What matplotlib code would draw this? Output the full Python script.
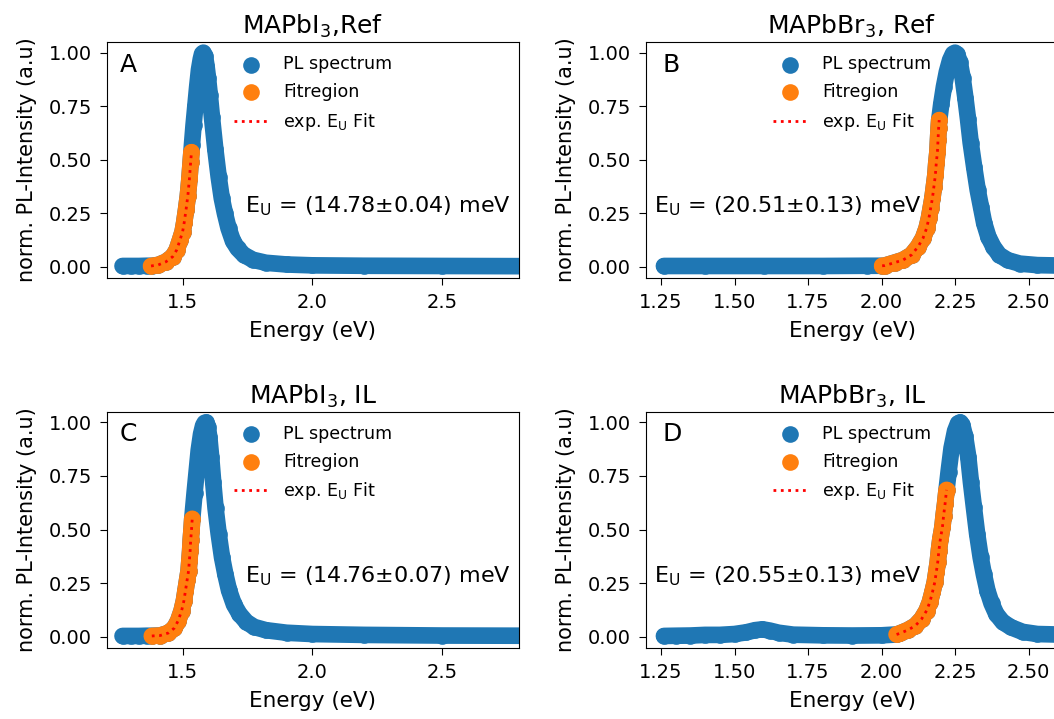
import matplotlib.pyplot as plt

BLUE   = '#1f77b4'
ORANGE = '#ff7f0e'

# MAPbI3, reference film
energy_a  = [1.267, 1.30, 1.33, 1.36, 1.38, 1.405, 1.435, 1.461, 1.476, 1.489, 1.499, 1.505, 1.512,
             1.519, 1.525, 1.530, 1.535, 1.541, 1.548, 1.555, 1.562, 1.569, 1.574, 1.579, 1.585,
             1.591, 1.597, 1.604, 1.612, 1.625, 1.638, 1.650, 1.662, 1.676, 1.693, 1.711, 1.735,
             1.770, 1.820, 1.900, 2.000, 2.200, 2.500, 2.850]
pl_a      = [0.003, 0.003, 0.003, 0.004, 0.004, 0.008, 0.023, 0.047, 0.078, 0.125, 0.164, 0.206, 0.265,
             0.330, 0.408, 0.490, 0.570, 0.660, 0.750, 0.840, 0.920, 0.970, 0.995, 1.000, 0.985,
             0.940, 0.880, 0.800, 0.700, 0.550, 0.420, 0.320, 0.250, 0.180, 0.120, 0.085, 0.055,
             0.032, 0.018, 0.010, 0.006, 0.004, 0.003, 0.002]
fit_e_a   = [1.377, 1.405, 1.435, 1.461, 1.476, 1.489, 1.499, 1.505, 1.512, 1.519, 1.525, 1.530, 1.533]
fit_pl_a  = [0.003, 0.008, 0.023, 0.047, 0.078, 0.125, 0.164, 0.206, 0.265, 0.330, 0.408, 0.490, 0.535]

# MAPbBr3, reference film
energy_b  = [1.26, 1.40, 1.60, 1.80, 1.95, 2.002, 2.011, 2.045, 2.073, 2.102, 2.124, 2.141, 2.153,
             2.161, 2.167, 2.173, 2.178, 2.183, 2.186, 2.190, 2.192, 2.194, 2.196, 2.203, 2.212,
             2.222, 2.233, 2.243, 2.250, 2.257, 2.266, 2.276, 2.285, 2.294, 2.303, 2.315, 2.327,
             2.338, 2.349, 2.363, 2.380, 2.400, 2.429, 2.470, 2.530, 2.650]
pl_b      = [0.003, 0.003, 0.003, 0.003, 0.004, 0.004, 0.005, 0.019, 0.031, 0.055, 0.093, 0.133, 0.179,
             0.226, 0.273, 0.320, 0.374, 0.428, 0.483, 0.537, 0.592, 0.647, 0.685, 0.760, 0.840,
             0.910, 0.965, 0.995, 1.000, 0.993, 0.955, 0.880, 0.790, 0.690, 0.580, 0.465, 0.358,
             0.280, 0.203, 0.140, 0.093, 0.055, 0.030, 0.014, 0.007, 0.004]
fit_e_b   = [2.002, 2.011, 2.045, 2.073, 2.102, 2.124, 2.141, 2.153, 2.161, 2.167, 2.173, 2.178,
             2.183, 2.186, 2.190, 2.192, 2.194, 2.196]
fit_pl_b  = [0.004, 0.005, 0.019, 0.031, 0.055, 0.093, 0.133, 0.179, 0.226, 0.273, 0.320, 0.374,
             0.428, 0.483, 0.537, 0.592, 0.647, 0.685]

# MAPbI3, IL treated
energy_c  = [1.267, 1.30, 1.33, 1.36, 1.38, 1.412, 1.444, 1.467, 1.482, 1.495, 1.504, 1.510, 1.516,
             1.522, 1.525, 1.528, 1.530, 1.533, 1.536, 1.545, 1.553, 1.561, 1.570, 1.578, 1.584,
             1.590, 1.596, 1.602, 1.609, 1.617, 1.626, 1.638, 1.651, 1.664, 1.678, 1.697, 1.718,
             1.745, 1.775, 1.820, 1.900, 2.000, 2.200, 2.500, 2.850]
pl_c      = [0.003, 0.003, 0.003, 0.004, 0.004, 0.005, 0.017, 0.040, 0.075, 0.121, 0.168, 0.215, 0.262,
             0.308, 0.355, 0.402, 0.449, 0.495, 0.550, 0.670, 0.770, 0.870, 0.945, 0.985, 0.998,
             1.000, 0.980, 0.930, 0.840, 0.720, 0.600, 0.480, 0.370, 0.290, 0.216, 0.150, 0.106,
             0.068, 0.045, 0.030, 0.018, 0.012, 0.008, 0.005, 0.004]
fit_e_c   = [1.380, 1.412, 1.444, 1.467, 1.482, 1.495, 1.504, 1.510, 1.516, 1.522, 1.525, 1.528,
             1.530, 1.533, 1.536]
fit_pl_c  = [0.003, 0.005, 0.017, 0.040, 0.075, 0.121, 0.168, 0.215, 0.262, 0.308, 0.355, 0.402,
             0.449, 0.495, 0.550]

# MAPbBr3, IL treated
energy_d  = [1.26, 1.30, 1.35, 1.40, 1.45, 1.50, 1.54, 1.57, 1.595, 1.62, 1.65, 1.70, 1.80, 1.90,
             2.00, 2.051, 2.062, 2.090, 2.115, 2.136, 2.153, 2.164, 2.173, 2.181, 2.186, 2.191,
             2.195, 2.200, 2.207, 2.211, 2.216, 2.221, 2.228, 2.238, 2.250, 2.260, 2.267, 2.274,
             2.284, 2.295, 2.304, 2.314, 2.325, 2.337, 2.348, 2.360, 2.374, 2.390, 2.412, 2.441,
             2.480, 2.530, 2.650]
pl_d      = [0.003, 0.004, 0.005, 0.008, 0.008, 0.012, 0.020, 0.030, 0.034, 0.028, 0.018, 0.009, 0.006,
             0.005, 0.006, 0.010, 0.015, 0.031, 0.051, 0.082, 0.121, 0.160, 0.207, 0.254, 0.300,
             0.347, 0.402, 0.456, 0.511, 0.565, 0.620, 0.685, 0.770, 0.880, 0.960, 0.995, 1.000,
             0.990, 0.935, 0.838, 0.720, 0.604, 0.480, 0.370, 0.290, 0.215, 0.155, 0.106, 0.068,
             0.043, 0.022, 0.012, 0.008]
fit_e_d   = [2.051, 2.062, 2.090, 2.115, 2.136, 2.153, 2.164, 2.173, 2.181, 2.186, 2.191, 2.195,
             2.200, 2.207, 2.211, 2.216, 2.221]
fit_pl_d  = [0.010, 0.015, 0.031, 0.051, 0.082, 0.121, 0.160, 0.207, 0.254, 0.300, 0.347, 0.402,
             0.456, 0.511, 0.565, 0.620, 0.685]

titles    = ['MAPbI$_3$,Ref', 'MAPbBr$_3$, Ref', 'MAPbI$_3$, IL', 'MAPbBr$_3$, IL']
letters   = ['A', 'B', 'C', 'D']
eu_values = ['14.78', '20.51', '14.76', '20.55']
eu_errors = ['0.04', '0.13', '0.07', '0.13']

panels = [
    (energy_a, pl_a, fit_e_a, fit_pl_a),
    (energy_b, pl_b, fit_e_b, fit_pl_b),
    (energy_c, pl_c, fit_e_c, fit_pl_c),
    (energy_d, pl_d, fit_e_d, fit_pl_d),
]

# axes rectangles (left, bottom, width, height); right column runs off the canvas
rects = [
    (0.1015, 0.6134, 0.3909, 0.3282),
    (0.6129, 0.6134, 0.3909, 0.3282),
    (0.1015, 0.0988, 0.3909, 0.3286),
    (0.6129, 0.0988, 0.3909, 0.3286),
]


def draw_dots(ax, x, y, color, label, z):
    # heavy dotted trace: joined band under the scatter markers
    ax.plot(x, y, color=color, lw=12.0, solid_capstyle='round',
            solid_joinstyle='round', zorder=z)
    ax.scatter(x, y, s=144, color=color, linewidths=0, label=label, zorder=z)


fig = plt.figure(figsize=(10.54, 7.19), dpi=100)

for i, (en, pl, fe, fpl) in enumerate(panels):
    ax = fig.add_axes(rects[i])
    draw_dots(ax, en, pl, BLUE, 'PL spectrum', 2)
    draw_dots(ax, fe, fpl, ORANGE, 'Fitregion', 3)
    ax.plot(fe, fpl, color='red', ls=':', lw=2.0, label='exp. E$_\\mathrm{U}$ Fit', zorder=4)

    left_col = (i % 2 == 0)
    if left_col:
        ax.set_xlim(1.207, 2.797)
        ax.set_xticks([1.5, 2.0, 2.5])
    else:
        ax.set_xlim(1.199, 2.60)
        ax.set_xticks([1.25, 1.50, 1.75, 2.00, 2.25, 2.50])
        ax.set_xticklabels(['1.25', '1.50', '1.75', '2.00', '2.25', '2.50'])
    ax.set_ylim(-0.053, 1.05)
    ax.set_yticks([0.0, 0.25, 0.5, 0.75, 1.0])
    ax.set_yticklabels(['0.00', '0.25', '0.50', '0.75', '1.00'])
    ax.tick_params(labelsize=14, length=5, pad=6)
    ax.set_ylabel('norm. PL-Intensity (a.u)', fontsize=15, labelpad=8)
    ax.set_xlabel('Energy (eV)', fontsize=15.5, labelpad=6)
    ax.set_title(titles[i], fontsize=18)

    ax.text(0.03 if left_col else 0.04, 0.955, letters[i], transform=ax.transAxes,
            fontsize=18, va='top', ha='left')

    eu_text = 'E$_\\mathrm{U}$ = (%s$\\pm$%s) meV' % (eu_values[i], eu_errors[i])
    if left_col:
        ax.text(0.98, 0.305, eu_text, transform=ax.transAxes, fontsize=16,
                ha='right', va='center')
    else:
        ax.text(0.02, 0.305, eu_text, transform=ax.transAxes, fontsize=16,
                ha='left', va='center')

    ax.legend(loc='upper left', bbox_to_anchor=(0.27, 1.01), frameon=False,
              fontsize=12.6, scatterpoints=1, labelspacing=0.55)

fig.savefig('out.png', dpi=100)
